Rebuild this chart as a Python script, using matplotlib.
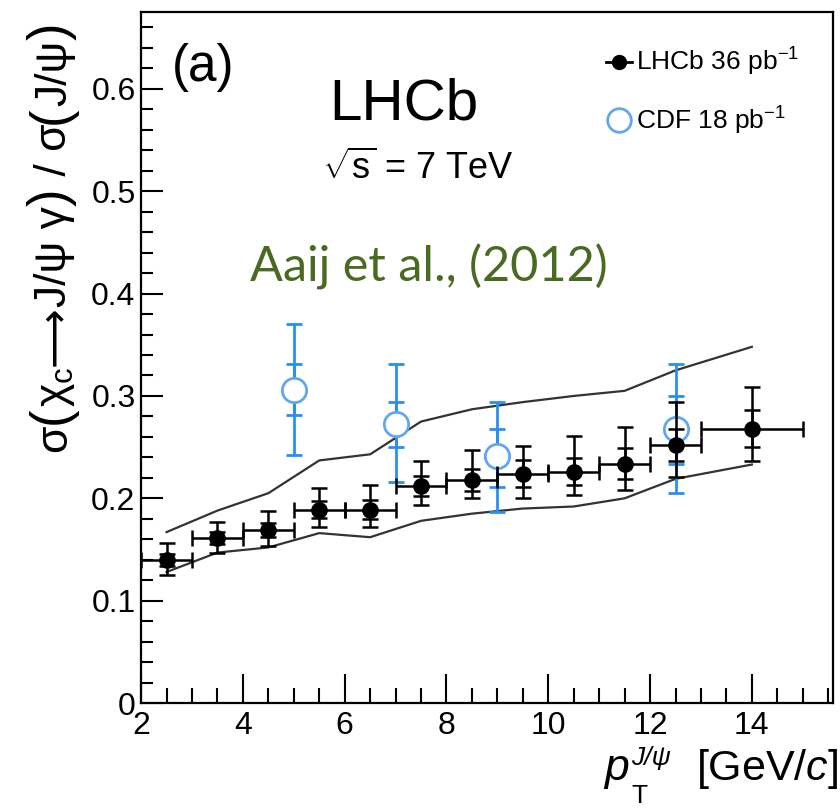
"""LHCb chi_c / J/psi cross-section ratio vs pT, with CDF points and theory band."""

import numpy as np
import matplotlib.pyplot as plt
from matplotlib.lines import Line2D
from matplotlib.ticker import MultipleLocator

plt.rcParams['font.family'] = ['Liberation Sans', 'DejaVu Sans']
plt.rcParams['mathtext.fontset'] = 'custom'
plt.rcParams['mathtext.rm'] = 'Liberation Sans'
plt.rcParams['mathtext.it'] = 'Liberation Sans:italic'

# LHCb measurement
lhcb_pt = np.array([2.5, 3.5, 4.5, 5.5, 6.5, 7.5, 8.5, 9.5, 10.5, 11.5, 12.5, 14.0])
lhcb_xlo = np.array([0.5, 0.5, 0.5, 0.5, 0.5, 0.5, 0.5, 0.5, 0.5, 0.5, 0.5, 1.0])
lhcb_xhi = np.array([0.5, 0.5, 0.5, 0.5, 0.5, 0.5, 0.5, 0.5, 0.5, 0.5, 0.5, 1.0])
lhcb_ratio = np.array([0.140, 0.161, 0.169, 0.189, 0.189, 0.212, 0.218, 0.224, 0.226, 0.234, 0.252, 0.268])
lhcb_tot_up = np.array([0.016, 0.016, 0.019, 0.021, 0.024, 0.024, 0.029, 0.027, 0.035, 0.036, 0.042, 0.041])
lhcb_tot_dn = np.array([0.015, 0.014, 0.016, 0.017, 0.017, 0.019, 0.018, 0.024, 0.023, 0.026, 0.031, 0.032])
lhcb_stat = np.array([0.006, 0.006, 0.007, 0.008, 0.009, 0.010, 0.011, 0.013, 0.013, 0.015, 0.016, 0.018])

# CDF measurement
cdf_pt = np.array([5.0, 7.0, 9.0, 12.5])
cdf_ratio = np.array([0.306, 0.273, 0.241, 0.268])
cdf_tot_up = np.array([0.064, 0.058, 0.053, 0.063])
cdf_tot_dn = np.array([0.064, 0.057, 0.054, 0.063])
cdf_stat_up = np.array([0.025, 0.021, 0.027, 0.032])
cdf_stat_dn = np.array([0.025, 0.023, 0.030, 0.034])

# theory band edges
band_pt = np.array([2.5, 3.5, 4.5, 5.5, 6.5, 7.5, 8.5, 9.5, 10.5, 11.5, 12.5, 14.0])
band_hi = np.array([0.167, 0.188, 0.205, 0.237, 0.243, 0.275, 0.287, 0.294, 0.300, 0.305, 0.325, 0.348])
band_lo = np.array([0.128, 0.147, 0.152, 0.166, 0.162, 0.178, 0.185, 0.190, 0.192, 0.200, 0.219, 0.233])

blue = '#2a8ff0'
blue_light = '#62a6f2'

W, H = 840, 809
fig = plt.figure(figsize=(W / 100, H / 100), dpi=100)
ax = fig.add_axes([0.168, 0.131, 0.824, 0.854])

ax.plot(band_pt, band_hi, color='#333333', lw=1.6, zorder=2)
ax.plot(band_pt, band_lo, color='#333333', lw=1.6, zorder=2)

# CDF: total then stat
ax.errorbar(cdf_pt, cdf_ratio, yerr=[cdf_tot_dn, cdf_tot_up], fmt='none',
            ecolor=blue, elinewidth=2.0, capsize=6, capthick=2.0, zorder=3)
ax.errorbar(cdf_pt, cdf_ratio, yerr=[cdf_stat_dn, cdf_stat_up], fmt='none',
            ecolor=blue, elinewidth=2.0, capsize=6, capthick=2.0, zorder=3)
ax.plot(cdf_pt, cdf_ratio, ls='none', marker='o', ms=17.5, mfc='white',
        mec=blue_light, mew=2.0, zorder=4)

# LHCb: total with x bins, then stat
ax.errorbar(lhcb_pt, lhcb_ratio, xerr=[lhcb_xlo, lhcb_xhi], yerr=[lhcb_tot_dn, lhcb_tot_up],
            fmt='none', ecolor='black', elinewidth=1.8, capsize=6, capthick=1.8, zorder=5)
ax.errorbar(lhcb_pt, lhcb_ratio, yerr=lhcb_stat, fmt='none', ecolor='black',
            elinewidth=1.8, capsize=6, capthick=1.8, zorder=5)
ax.plot(lhcb_pt, lhcb_ratio, ls='none', marker='o', ms=11, color='black', zorder=6)

ax.set_xlim(2, 15.6)
ax.set_ylim(0, 0.675)
ax.xaxis.set_minor_locator(MultipleLocator(0.5))
ax.yaxis.set_minor_locator(MultipleLocator(0.02))
ax.set_xticks([2, 4, 6, 8, 10, 12, 14])
ax.set_xticklabels(['2', '4', '6', '8', '10', '12', '14'])
ax.set_yticks([0, 0.1, 0.2, 0.3, 0.4, 0.5, 0.6])
ax.set_yticklabels(['0', '0.1', '0.2', '0.3', '0.4', '0.5', '0.6'])

ax.xaxis.set_tick_params(which='major', direction='in', length=21, width=1.5, labelsize=23, pad=6)
ax.xaxis.set_tick_params(which='minor', direction='in', length=11, width=1.5)
ax.yaxis.set_tick_params(which='major', direction='in', length=16, width=1.5, labelsize=23, pad=4)
ax.yaxis.set_tick_params(which='minor', direction='in', length=8.5, width=1.5)
for sp in ax.spines.values():
    sp.set_linewidth(1.6)

ax.text(0.045, 0.955, '(a)', transform=ax.transAxes, fontsize=37, va='top', ha='left')
ax.text(0.272, 0.905, 'LHCb', transform=ax.transAxes, fontsize=42, va='top', ha='left')
ax.text(0.262, 0.80, r'$\sqrt{\mathrm{s}}$ = 7 TeV', transform=ax.transAxes, fontsize=26,
        va='top', ha='left')
ax.text(0.158, 0.665, 'Aaij et al., (2012)', transform=ax.transAxes, fontsize=35,
        va='top', ha='left', color='#4a6a22', family=['Lato', 'DejaVu Sans'])

handles = [Line2D([], [], color='black', lw=2, marker='o', ms=10),
           Line2D([], [], ls='none', marker='o', ms=17, mfc='white', mec=blue_light, mew=2)]
ax.legend(handles, [r'LHCb 36 pb$^{\mathregular{-1}}$', r'CDF 18 pb$^{\mathregular{-1}}$'],
          loc='upper right', bbox_to_anchor=(0.985, 0.985), frameon=False, fontsize=19,
          handlelength=1.0, handletextpad=0.15, labelspacing=1.0)

# y label built piece by piece so the brackets can be larger than the text
renderer = fig.canvas.get_renderer()
ylab_pieces = [('σ', 32), ('(', 38), (r'χ$_\mathrm{c}$', 32), ('⟶', 30), ('J/ψ γ', 32),
               (')', 38), (' / σ', 32), ('(', 38), ('J/ψ', 32), (')', 38)]
ypos = H - 452
for txt, size in ylab_pieces:
    t = fig.text(66 / W, ypos / H, txt, rotation=90, rotation_mode='anchor',
                 ha='left', va='baseline', fontsize=size)
    ypos += t.get_window_extent(renderer).height

# x label, ROOT style: sub/superscript stacked with wide offsets
fig.text(604 / W, (H - 780) / H, 'p', style='italic', fontsize=32, ha='left', va='baseline')
fig.text(631 / W, (H - 765) / H, 'J/ψ', style='italic', fontsize=19, ha='left', va='baseline')
fig.text(631 / W, (H - 803) / H, 'T', fontsize=19, ha='left', va='baseline')
fig.text(838 / W, (H - 780) / H, '[GeV/$c$]', fontsize=31, ha='right', va='baseline')

plt.savefig('out.png', dpi=100)
